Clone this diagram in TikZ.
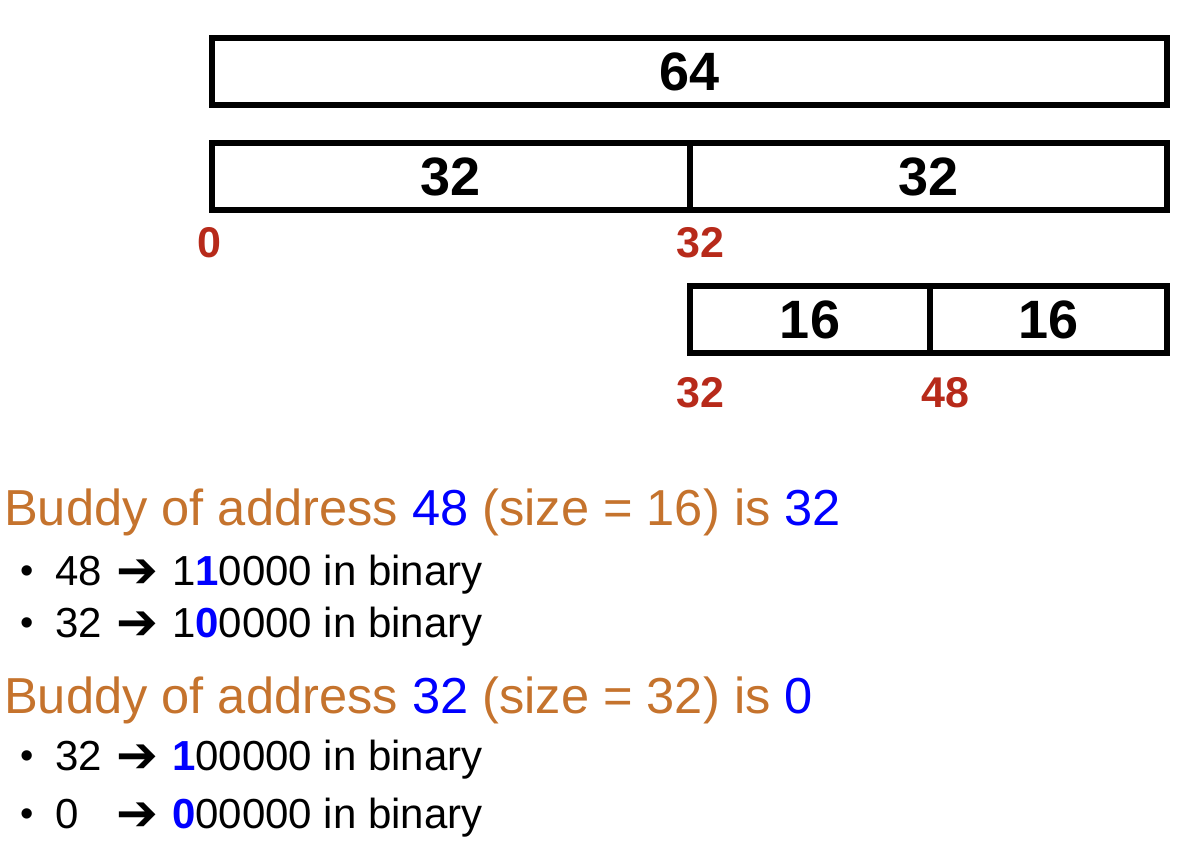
\documentclass[tikz,border=0pt]{standalone}
\usepackage{fontspec}
\setmainfont{Liberation Sans}
\newfontfamily\arrowfont{DejaVu Sans}
\usetikzlibrary{positioning}
\definecolor{headorange}{RGB}{197,115,45}
\definecolor{addrred}{RGB}{183,42,26}
\newcommand{\hibit}[1]{\textcolor{blue}{\textbf{#1}}}

\begin{document}
\begin{tikzpicture}[x=1pt, y=-1pt]

\tikzset{block/.style={draw=black, line width=6, minimum height=67, inner sep=0, outer sep=0, font=\fontsize{54}{54}\selectfont\bfseries}}
\tikzset{addr/.style={text=addrred, inner sep=0, anchor=base, font=\fontsize{43}{43}\selectfont\bfseries}}
\tikzset{heading/.style={text=headorange, inner sep=0, anchor=base west, font=\fontsize{50.6}{50.6}\selectfont}}
\tikzset{item/.style={inner sep=0, anchor=base west, font=\fontsize{42}{42}\selectfont}}
\tikzset{dot/.style={inner sep=0, anchor=base, font=\fontsize{38}{38}\selectfont}}
\tikzset{arrowglyph/.style={inner sep=0, anchor=base west, font=\fontsize{50}{50}\arrowfont}}

\useasboundingbox (0,0) rectangle (1198,850);

\node[block, minimum width=955] (b64) at (689.5,71.5) {64};
\node[block, minimum width=478] (b32a) at (451,176.5) {32};
\node[block, minimum width=477, right=0 of b32a] (b32b) {32};
\node[block, minimum width=240] (b16a) at (810,319.5) {16};
\node[block, minimum width=237, right=0 of b16a] (b16b) {16};

\node[addr] (a0) at (209,257) {0};
\node[addr] (a32) at (700,257) {32};
\node[addr] (a32b) at (700,407) {32};
\node[addr] (a48) at (945,407) {48};

\node[heading] (hd1) at (4,525) {Buddy of address \textcolor{blue}{48} (size = 16) is \textcolor{blue}{32}};
\node[dot] (d1) at (27,583) {•};
\node[item] (n1) at (55,585) {48};
\node[arrowglyph] (r1) at (116,587) {➔};
\node[item] (v1) at (172,585) {1\hibit{1}0000 in binary};
\node[dot] (d2) at (27,635) {•};
\node[item] (n2) at (55,637) {32};
\node[arrowglyph] (r2) at (116,639) {➔};
\node[item] (v2) at (172,637) {1\hibit{0}0000 in binary};

\node[heading] (hd2) at (4,713) {Buddy of address \textcolor{blue}{32} (size = 32) is \textcolor{blue}{0}};
\node[dot] (d3) at (27,768) {•};
\node[item] (n3) at (55,770) {32};
\node[arrowglyph] (r3) at (116,772) {➔};
\node[item] (v3) at (172,770) {\hibit{1}00000 in binary};
\node[dot] (d4) at (27,826) {•};
\node[item] (n4) at (55,828) {0};
\node[arrowglyph] (r4) at (116,830) {➔};
\node[item] (v4) at (172,828) {\hibit{0}00000 in binary};

\end{tikzpicture}
\end{document}
